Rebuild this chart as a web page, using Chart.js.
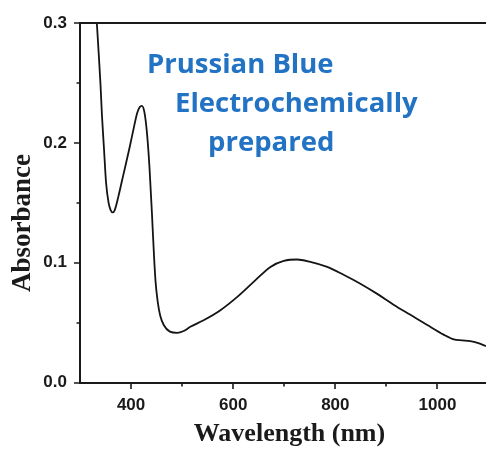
<!DOCTYPE html>
<html>
<head>
<meta charset="utf-8">
<script src="https://cdn.jsdelivr.net/npm/chart.js@4/dist/chart.umd.min.js"></script>
<style>
  html, body { margin: 0; padding: 0; background: #ffffff; }
  #wrap { width: 486px; height: 453px; position: relative; background: #ffffff; }
</style>
</head>
<body>
<div id="wrap"><canvas id="c" width="486" height="453"></canvas></div>
<script>
// ---- data ----
const wavelength = [328, 333, 336, 340, 343, 347, 351, 356, 360, 364, 368, 375, 382, 389, 397, 405, 412, 417, 421, 426, 431, 436, 441, 445, 448, 452, 457, 464, 476, 490, 503, 516, 542, 575, 608, 640, 673, 699, 725, 751, 784, 816, 849, 882, 914, 947, 980, 1012, 1032, 1048, 1064, 1080, 1095];
const absorbance = [0.33, 0.30, 0.279, 0.25, 0.223, 0.195, 0.167, 0.150, 0.144, 0.142, 0.144, 0.155, 0.168, 0.181, 0.196, 0.212, 0.225, 0.230, 0.231, 0.226, 0.209, 0.180, 0.140, 0.105, 0.084, 0.068, 0.056, 0.048, 0.0425, 0.0415, 0.043, 0.0465, 0.052, 0.0604, 0.0715, 0.084, 0.0965, 0.1015, 0.1027, 0.1007, 0.0965, 0.090, 0.0825, 0.074, 0.065, 0.0565, 0.048, 0.040, 0.036, 0.0352, 0.0345, 0.0328, 0.0304];

const xMajorTicks = [400, 600, 800, 1000];
const xMajorLabels = ['400', '600', '800', '1000'];
const xMinorTicks = [500, 700, 900];
const yMajorTicks = [0, 0.1, 0.2, 0.3];
const yMajorLabels = ['0.0', '0.1', '0.2', '0.3'];
const yMinorTicks = [0.05, 0.15, 0.25];

const annotationLines = ['Prussian Blue', 'Electrochemically', 'prepared'];
const xTitle = 'Wavelength (nm)';
const yTitle = 'Absorbance';

// ---- styling ----
const AXIS_COLOR = '#1a1a1a';
const TEXT_COLOR = '#1a1a1a';
const BLUE = '#2373c4';
const MAJOR_LEN = 6;
const MINOR_LEN = 3.5;

const points = wavelength.map((w, i) => ({ x: w, y: absorbance[i] }));

// axis frame (left, bottom, top) and tick marks, placed through the scales
const axisFrame = {
  id: 'axisFrame',
  afterDraw(chart) {
    const ctx = chart.ctx;
    const a = chart.chartArea;
    const xs = chart.scales.x, ys = chart.scales.y;
    const L = Math.round(a.left), B = Math.round(a.bottom), T = Math.round(a.top);
    ctx.save();
    ctx.strokeStyle = AXIS_COLOR;
    ctx.lineCap = 'square';
    ctx.lineWidth = 2;
    ctx.beginPath();
    ctx.moveTo(L, T); ctx.lineTo(L, B); ctx.lineTo(a.right, B);
    ctx.moveTo(L, T); ctx.lineTo(a.right, T);
    ctx.stroke();
    ctx.lineWidth = 1.6;
    ctx.lineCap = 'butt';
    ctx.beginPath();
    xMajorTicks.forEach(v => { const p = Math.round(xs.getPixelForValue(v)); ctx.moveTo(p, B); ctx.lineTo(p, B + MAJOR_LEN); });
    xMinorTicks.forEach(v => { const p = Math.round(xs.getPixelForValue(v)); ctx.moveTo(p, B); ctx.lineTo(p, B + MINOR_LEN); });
    yMajorTicks.forEach(v => { const p = Math.round(ys.getPixelForValue(v)); ctx.moveTo(L, p); ctx.lineTo(L - MAJOR_LEN, p); });
    yMinorTicks.forEach(v => { const p = Math.round(ys.getPixelForValue(v)); ctx.moveTo(L, p); ctx.lineTo(L - MINOR_LEN, p); });
    ctx.stroke();
    ctx.restore();
  }
};

const annotationText = {
  id: 'annotationText',
  afterDraw(chart) {
    const ctx = chart.ctx;
    ctx.save();
    ctx.fillStyle = BLUE;
    ctx.font = 'bold 27.5px "Open Sans", "Noto Sans", sans-serif';
    ctx.textAlign = 'left';
    ctx.textBaseline = 'alphabetic';
    const pos = [[147, 73], [175, 112], [208, 151]];
    annotationLines.forEach((t, i) => ctx.fillText(t, pos[i][0], pos[i][1]));
    ctx.restore();
  }
};

new Chart(document.getElementById('c'), {
  type: 'scatter',
  data: {
    datasets: [{
      data: points,
      showLine: true,
      borderColor: '#141414',
      borderWidth: 1.8,
      pointRadius: 0,
      pointHoverRadius: 0,
      fill: false,
      cubicInterpolationMode: 'monotone',
      xAxisID: 'x',
      yAxisID: 'y'
    }]
  },
  options: {
    responsive: false,
    animation: false,
    events: [],
    layout: { padding: { top: 22, right: 0, bottom: 0, left: 0 } },
    plugins: {
      legend: { display: false },
      tooltip: { enabled: false }
    },
    scales: {
      x: {
        type: 'linear',
        position: 'bottom',
        min: 300,
        max: 1095,
        afterBuildTicks(scale) { scale.ticks = xMajorTicks.map(v => ({ value: v })); },
        afterFit(scale) { scale.height = 70.5; },
        ticks: {
          color: TEXT_COLOR,
          font: { family: '"Liberation Sans", Arial, sans-serif', size: 17, weight: 'bold' },
          padding: 13,
          maxRotation: 0,
          autoSkip: false,
          callback(value) {
            const i = xMajorTicks.indexOf(value);
            return i >= 0 ? xMajorLabels[i] : '';
          }
        },
        grid: { display: false, drawOnChartArea: false, drawTicks: false },
        border: { display: false },
        title: {
          display: true,
          text: '\u00a0\u00a0' + xTitle,
          color: TEXT_COLOR,
          font: { family: '"Liberation Serif", "Times New Roman", serif', size: 26, weight: 'bold' },
          padding: { top: 0, bottom: 3 }
        }
      },
      y: {
        type: 'linear',
        position: 'left',
        min: 0,
        max: 0.3,
        afterBuildTicks(scale) { scale.ticks = yMajorTicks.map(v => ({ value: v })); },
        afterFit(scale) { scale.width = 80; },
        ticks: {
          color: TEXT_COLOR,
          font: { family: '"Liberation Sans", Arial, sans-serif', size: 17, weight: 'bold' },
          padding: 13,
          autoSkip: false,
          callback(value) {
            const i = yMajorTicks.findIndex(v => Math.abs(v - value) < 1e-9);
            return i >= 0 ? yMajorLabels[i] : '';
          }
        },
        grid: { display: false, drawOnChartArea: false, drawTicks: false },
        border: { display: false },
        title: {
          display: true,
          text: yTitle + '\u00a0\u00a0\u00a0\u00a0\u00a0\u00a0',
          color: TEXT_COLOR,
          font: { family: '"Liberation Serif", "Times New Roman", serif', size: 27, weight: 'bold' },
          padding: { top: 7, bottom: 0 }
        }
      }
    }
  },
  plugins: [axisFrame, annotationText]
});
</script>
</body>
</html>
